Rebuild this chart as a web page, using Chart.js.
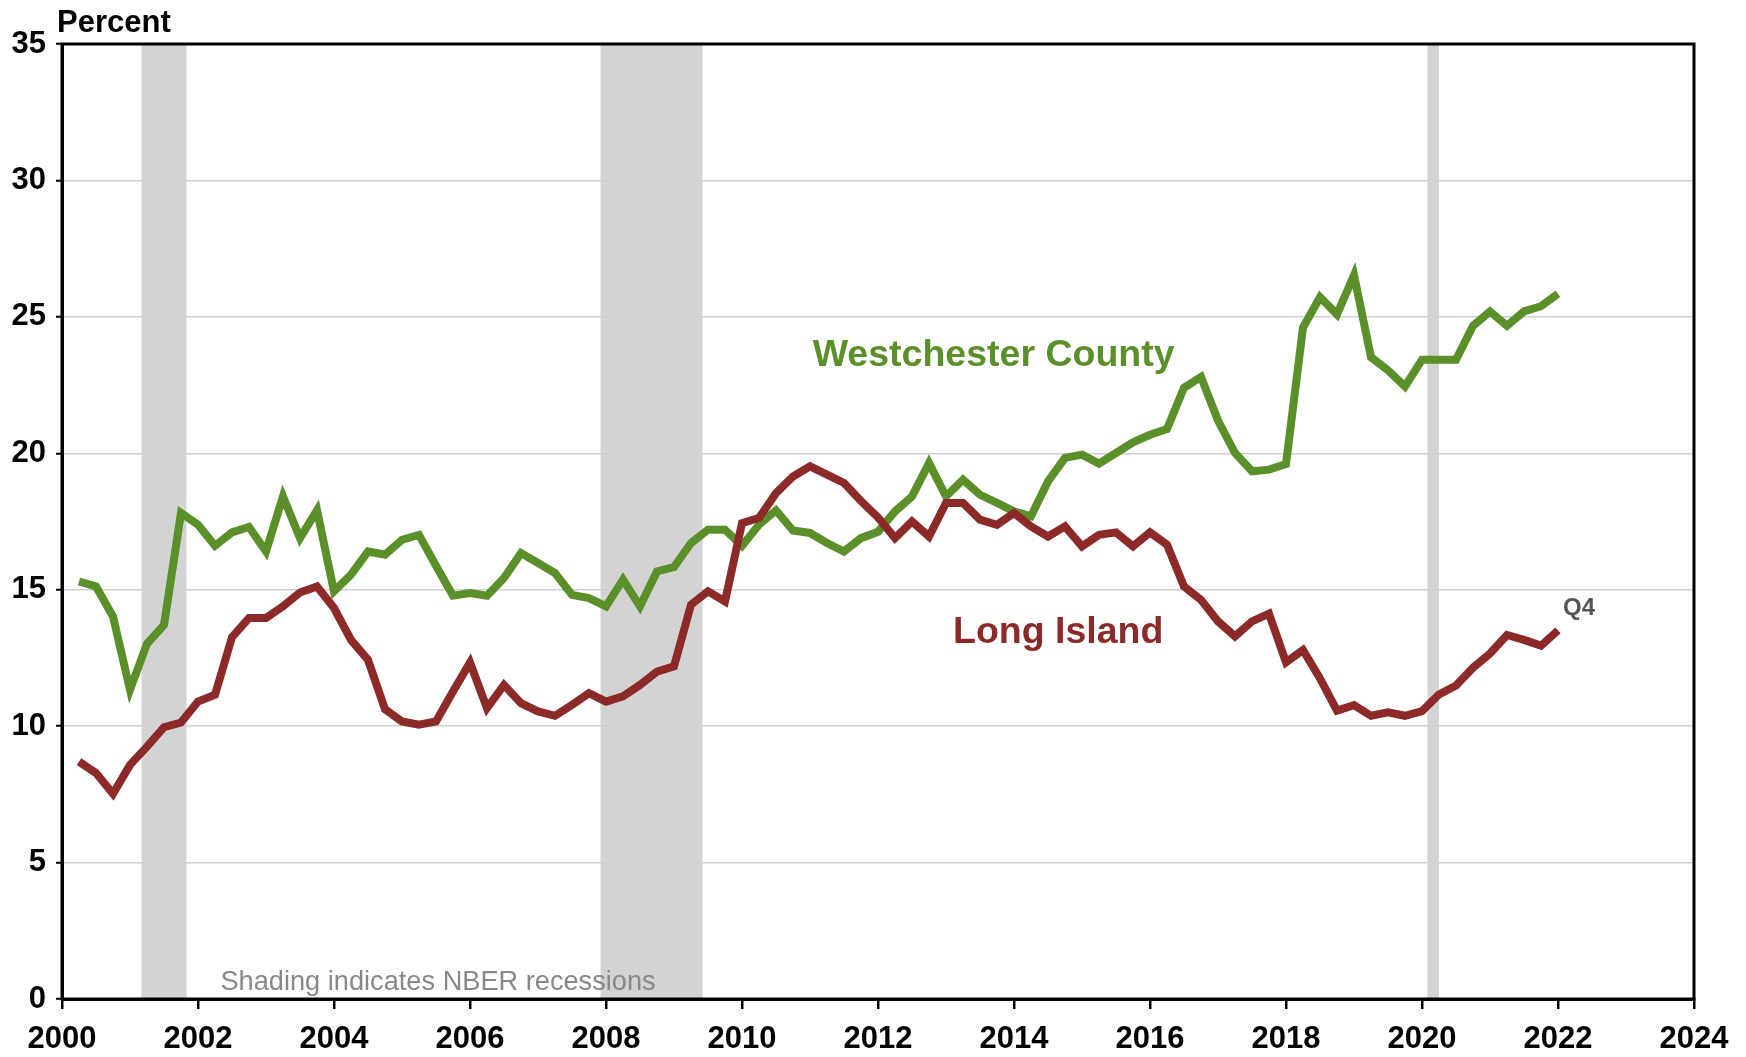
<!DOCTYPE html>
<html>
<head>
<meta charset="utf-8">
<script src="https://cdn.jsdelivr.net/npm/chart.js@4.4.1/dist/chart.umd.min.js"></script>
<style>
  html, body { margin: 0; padding: 0; background: #fff; }
  #wrap { width: 1746px; height: 1057px; }
</style>
</head>
<body>
<div id="wrap"><canvas id="chart" width="1746" height="1057"></canvas></div>
<script>
// quarterly series, first point = 2000 Q2 (plotted at 2000.25), last = 2021 Q4 (2022.0)
const firstQuarter = 2000.25;

const westchester = [
  15.30, 15.12, 14.02, 11.33, 13.02, 13.71, 17.81, 17.38, 16.61, 17.10,
  17.30, 16.40, 18.42, 16.89, 17.91, 14.94, 15.55, 16.40, 16.28, 16.83,
  17.01, 15.88, 14.78, 14.88, 14.78, 15.43, 16.34, 15.98, 15.61, 14.81,
  14.69, 14.39, 15.37, 14.39, 15.67, 15.83, 16.71, 17.20, 17.20, 16.61,
  17.38, 17.91, 17.17, 17.08, 16.71, 16.40, 16.89, 17.12, 17.87, 18.42,
  19.64, 18.42, 19.03, 18.48, 18.18, 17.87, 17.69, 18.97, 19.83, 19.95,
  19.62, 20.01, 20.40, 20.68, 20.89, 22.40, 22.80, 21.20, 20.01, 19.34,
  19.40, 19.61, 24.61, 25.72, 25.09, 26.53, 23.52, 23.04, 22.45, 23.43,
  23.43, 23.43, 24.67, 25.20, 24.67, 25.20, 25.39, 25.85
];

const longIsland = [
  8.70, 8.28, 7.52, 8.58, 9.25, 9.96, 10.13, 10.90, 11.15, 13.26,
  13.96, 13.96, 14.39, 14.90, 15.12, 14.33, 13.16, 12.43, 10.62, 10.17,
  10.05, 10.17, 11.27, 12.33, 10.66, 11.51, 10.84, 10.54, 10.38, 10.78,
  11.21, 10.90, 11.09, 11.51, 12.00, 12.19, 14.45, 14.94, 14.57, 17.44,
  17.63, 18.54, 19.15, 19.52, 19.22, 18.91, 18.25, 17.65, 16.89, 17.50,
  16.95, 18.18, 18.18, 17.57, 17.38, 17.81, 17.32, 16.95, 17.32, 16.59,
  17.01, 17.10, 16.59, 17.10, 16.65, 15.12, 14.63, 13.84, 13.29, 13.84,
  14.12, 12.34, 12.79, 11.75, 10.57, 10.77, 10.38, 10.51, 10.38, 10.55,
  11.16, 11.49, 12.14, 12.66, 13.34, 13.16, 12.95, 13.51
];

// NBER recessions (start, end) in fractional years
const recessions = [
  [2001.17, 2001.83],
  [2007.92, 2009.42],
  [2020.08, 2020.25]
];

const xTicks = { min: 2000, max: 2024, step: 2 };
const yTicks = { min: 0, max: 35, step: 5 };

const green = '#5a8f29';
const red = '#8c2a2a';
const fontFamily = '"Liberation Sans", Arial, sans-serif';

const toPoints = arr => arr.map((v, i) => ({ x: firstQuarter + i * 0.25, y: v }));

const extras = {
  id: 'extras',
  beforeDraw(chart) {
    const { ctx, chartArea: a, scales: { x } } = chart;
    ctx.save();
    ctx.fillStyle = '#d3d3d3';
    recessions.forEach(([s, e]) => {
      const x0 = x.getPixelForValue(s), x1 = x.getPixelForValue(e);
      ctx.fillRect(x0, a.top, x1 - x0, a.bottom - a.top);
    });
    ctx.restore();
  },
  afterDatasetsDraw(chart) {
    const { ctx, chartArea: a, scales: { x, y } } = chart;
    ctx.save();
    // box round the plot
    ctx.strokeStyle = '#000';
    ctx.lineWidth = 3;
    ctx.strokeRect(a.left, a.top, a.right - a.left, a.bottom - a.top);

    ctx.textBaseline = 'middle';
    ctx.fillStyle = '#000';
    ctx.textAlign = 'left';
    ctx.font = 'bold 31px ' + fontFamily;
    ctx.fillText('Percent', a.left - 5, a.top - 21);

    ctx.textAlign = 'center';
    ctx.font = 'bold 37.5px ' + fontFamily;
    ctx.fillStyle = green;
    ctx.fillText('Westchester County', x.getPixelForValue(2013.7), y.getPixelForValue(23.58));
    ctx.fillStyle = red;
    ctx.fillText('Long Island', x.getPixelForValue(2014.65), y.getPixelForValue(13.42));

    ctx.fillStyle = '#555';
    ctx.font = 'bold 24px ' + fontFamily;
    ctx.fillText('Q4', x.getPixelForValue(2022.31), y.getPixelForValue(14.32));

    ctx.textAlign = 'left';
    ctx.fillStyle = '#888';
    ctx.font = '27.2px ' + fontFamily;
    ctx.fillText('Shading indicates NBER recessions', x.getPixelForValue(2002.33), y.getPixelForValue(0.62));
    ctx.restore();
  }
};

new Chart(document.getElementById('chart'), {
  type: 'line',
  data: {
    datasets: [
      {
        label: 'Westchester County',
        data: toPoints(westchester),
        borderColor: green,
        borderWidth: 8,
        pointRadius: 0,
        borderJoinStyle: 'miter',
        tension: 0,
        order: 2
      },
      {
        label: 'Long Island',
        data: toPoints(longIsland),
        borderColor: red,
        borderWidth: 8,
        pointRadius: 0,
        borderJoinStyle: 'miter',
        tension: 0,
        order: 1
      }
    ]
  },
  options: {
    responsive: false,
    animation: false,
    events: [],
    layout: { padding: { top: 44, right: 52, left: 0, bottom: 0 } },
    plugins: { legend: { display: false }, tooltip: { enabled: false } },
    scales: {
      x: {
        type: 'linear',
        min: xTicks.min,
        max: xTicks.max,
        afterFit: s => { s.height = 58; },
        ticks: {
          stepSize: xTicks.step,
          callback: v => String(v),
          color: '#000',
          font: { family: fontFamily, size: 31, weight: 'bold' },
          padding: 12,
          maxRotation: 0
        },
        grid: { drawOnChartArea: false, color: '#000', lineWidth: 2.5, tickLength: 10 },
        border: { color: '#000', width: 3 }
      },
      y: {
        min: yTicks.min,
        max: yTicks.max,
        afterFit: s => { s.width = 62; },
        ticks: {
          stepSize: yTicks.step,
          color: '#000',
          font: { family: fontFamily, size: 31, weight: 'bold' },
          padding: 10
        },
        grid: { color: '#d0d0d0', lineWidth: 1.5, tickColor: '#000', tickLength: 6, tickWidth: 2 },
        border: { color: '#000', width: 3 }
      }
    }
  },
  plugins: [extras]
});
</script>
</body>
</html>
